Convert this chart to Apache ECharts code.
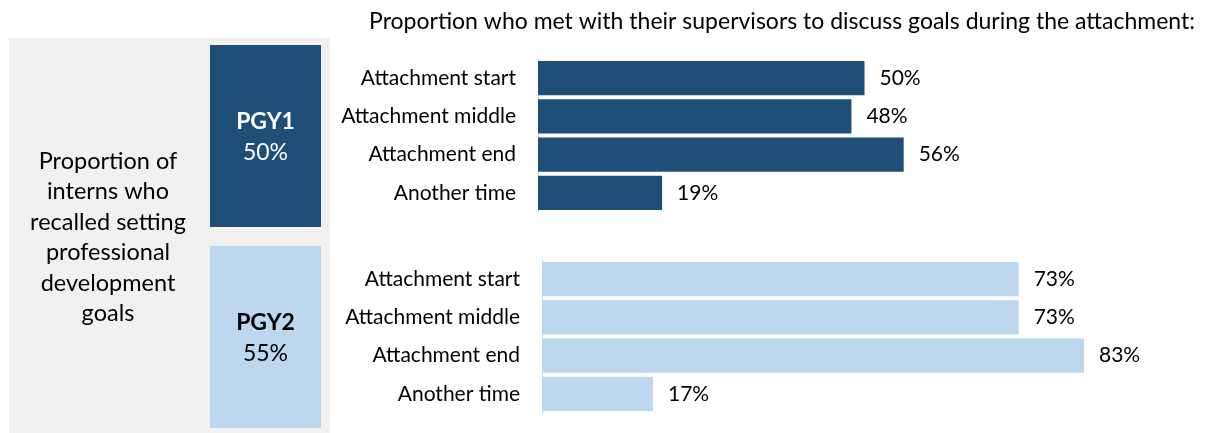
<!DOCTYPE html>
<html>
<head>
<meta charset="utf-8">
<script src="https://cdn.jsdelivr.net/npm/echarts@6/dist/echarts.min.js"></script>
<style>
  html, body { margin: 0; padding: 0; background: #ffffff; }
  #chart { width: 1221px; height: 433px; }
</style>
</head>
<body>
<div id="chart"></div>
<script>
// Timing of supervisor goal meetings, by postgraduate year
const categories = ['Attachment start', 'Attachment middle', 'Attachment end', 'Another time'];
const pgy1Met = [50, 48, 56, 19];
const pgy2Met = [73, 73, 83, 17];

// Interns who recalled setting professional development goals
const groupNames = ['PGY1', 'PGY2'];
const recalledGoals = [50, 55];

const titleText = 'Proportion who met with their supervisors to discuss goals during the attachment:';
const sideText = 'Proportion of\ninterns who\nrecalled setting\nprofessional\ndevelopment\ngoals';

const FONT = 'Lato, "Noto Sans", sans-serif';
const DARK = '#1f4e79';
const LIGHT = '#bdd7ee';

const chart = echarts.init(document.getElementById('chart'), null, { renderer: 'canvas' });

function yAxisFor(gridIndex) {
  return {
    type: 'category',
    gridIndex: gridIndex,
    data: categories,
    inverse: true,
    axisTick: { show: false },
    axisLine: { show: true, lineStyle: { color: '#d6d6d6', width: 1 } },
    axisLabel: { fontFamily: FONT, fontSize: 21, color: '#000', margin: 22 },
    splitLine: { show: false }
  };
}

function xAxisFor(gridIndex) {
  return {
    type: 'value',
    gridIndex: gridIndex,
    min: 0,
    max: 100,
    show: false
  };
}

function barSeries(idx, values, color) {
  return {
    type: 'bar',
    xAxisIndex: idx,
    yAxisIndex: idx,
    data: values,
    barCategoryGap: '10%',
    itemStyle: { color: color },
    label: {
      show: true,
      position: 'right',
      distance: 15,
      formatter: '{c}%',
      fontFamily: FONT,
      fontSize: 21,
      color: '#000'
    },
    silent: true
  };
}

function groupBox(i, y, fill, textColor) {
  return {
    type: 'group',
    children: [
      { type: 'rect', shape: { x: 210, y: y, width: 111, height: 182 }, style: { fill: fill } },
      {
        type: 'text', x: 265.5, y: y + 77,
        style: { text: groupNames[i], font: 'bold 23px ' + FONT, fill: textColor, textAlign: 'center', textVerticalAlign: 'middle' }
      },
      {
        type: 'text', x: 265.5, y: y + 108,
        style: { text: recalledGoals[i] + '%', font: '23px ' + FONT, fill: textColor, textAlign: 'center', textVerticalAlign: 'middle' }
      }
    ]
  };
}

chart.setOption({
  animation: false,
  backgroundColor: '#ffffff',
  title: {
    text: titleText,
    right: 21,
    top: 5,
    textStyle: { fontFamily: FONT, fontSize: 23, fontWeight: 'normal', color: '#000' }
  },
  grid: [
    { left: 538, top: 59, width: 653, height: 153 },
    { left: 542, top: 260, width: 653, height: 153 }
  ],
  xAxis: [xAxisFor(0), xAxisFor(1)],
  yAxis: [yAxisFor(0), yAxisFor(1)],
  series: [barSeries(0, pgy1Met, DARK), barSeries(1, pgy2Met, LIGHT)],
  graphic: [
    { type: 'rect', z: -1, shape: { x: 9, y: 38, width: 321, height: 395 }, style: { fill: '#f1f1f1' } },
    {
      type: 'text', x: 108, y: 237.5,
      style: { text: sideText, font: '23.5px ' + FONT, fill: '#000', textAlign: 'center', textVerticalAlign: 'middle', lineHeight: 30.4 }
    },
    groupBox(0, 45, DARK, '#ffffff'),
    groupBox(1, 246, LIGHT, '#000000')
  ]
});
</script>
</body>
</html>
